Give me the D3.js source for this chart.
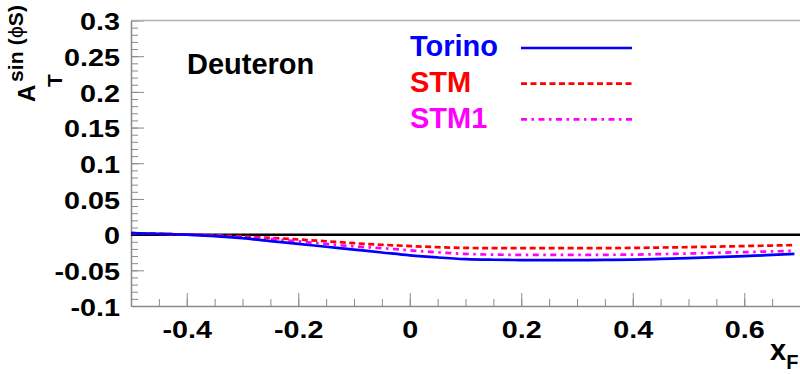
<!DOCTYPE html>
<html>
<head>
<meta charset="utf-8">
<script src="https://cdn.jsdelivr.net/npm/d3@7"></script>
<style>
  body { margin: 0; background: #fff; }
  text { font-family: "Liberation Sans", Arial, sans-serif; font-weight: bold; }
</style>
</head>
<body>
<div id="chart"></div>
<script>
// Transverse single-spin asymmetry vs x_F, deuteron target

// Data
let xF = [-0.5, -0.45, -0.4, -0.35, -0.3, -0.25, -0.2, -0.15, -0.1, -0.05, 0,
          0.05, 0.1, 0.15, 0.2, 0.25, 0.3, 0.35, 0.4, 0.45, 0.5, 0.55, 0.6, 0.65, 0.69];
let torino = [0.002, 0.0012, 0, -0.002, -0.005, -0.009, -0.013, -0.017, -0.021, -0.025, -0.029,
              -0.032, -0.0343, -0.0352, -0.0356, -0.0357, -0.0357, -0.0355, -0.035, -0.034, -0.033,
              -0.0315, -0.030, -0.0285, -0.027];
let stm = [0.002, 0.0012, 0, -0.001, -0.0025, -0.0045, -0.0068, -0.0093, -0.012, -0.0142, -0.016,
           -0.0176, -0.0186, -0.019, -0.019, -0.019, -0.019, -0.0189, -0.0186, -0.0181, -0.0175,
           -0.0168, -0.016, -0.0153, -0.0146];
let stm1 = [0.002, 0.0012, 0, -0.0015, -0.0035, -0.006, -0.0095, -0.013, -0.0165, -0.019, -0.022,
            -0.0248, -0.027, -0.028, -0.0284, -0.0285, -0.0285, -0.0283, -0.028, -0.0273, -0.0265,
            -0.0255, -0.0245, -0.0235, -0.0226];

let seriesNames = ["Torino", "STM", "STM1"];
let xTicks = [-0.4, -0.2, 0, 0.2, 0.4, 0.6];
let yTicks = [-0.1, -0.05, 0, 0.05, 0.1, 0.15, 0.2, 0.25, 0.3];

// Chart setup
let svgWidth = 800;
let svgHeight = 374;
let margin = { top: 20.5, right: 0, bottom: 68, left: 131 };
let width = svgWidth - margin.left - margin.right;
let height = svgHeight - margin.top - margin.bottom;

let svg = d3.select("#chart")
    .append("svg")
    .attr("width", svgWidth)
    .attr("height", svgHeight);

let chartGroup = svg.append("g")
    .attr("transform", `translate(${margin.left}, ${margin.top})`);

// Scales
let xScale = d3.scaleLinear().domain([-0.5, 0.7]).range([0, width]);
let yScale = d3.scaleLinear().domain([-0.1, 0.3]).range([height, 0]);

let axisColor = "#8a8a8a";
let labelScale = 1.25;

// Minor ticks
chartGroup.append("g")
    .attr("transform", `translate(0, ${height})`)
    .call(d3.axisBottom(xScale).ticks(24).tickSize(-7).tickSizeOuter(0).tickFormat(""))
    .call(g => g.selectAll("line").attr("stroke", axisColor))
    .call(g => g.select(".domain").remove());
chartGroup.append("g")
    .call(d3.axisLeft(yScale).ticks(40).tickSize(-7).tickSizeOuter(0).tickFormat(""))
    .call(g => g.selectAll("line").attr("stroke", axisColor))
    .call(g => g.select(".domain").remove());

// Major ticks and labels
let fmt = d => String(+d.toFixed(2));
let bottomAxis = d3.axisBottom(xScale).tickValues(xTicks).tickSize(-13).tickSizeOuter(0).tickFormat(fmt);
let leftAxis = d3.axisLeft(yScale).tickValues(yTicks).tickSize(-13).tickSizeOuter(0).tickFormat(fmt);

chartGroup.append("g")
    .attr("transform", `translate(0, ${height})`)
    .call(bottomAxis)
    .call(g => g.selectAll("line").attr("stroke", axisColor))
    .call(g => g.select(".domain").attr("stroke", axisColor).attr("stroke-width", 1.5))
    .call(g => g.selectAll("text")
        .attr("y", 32).attr("dy", null)
        .attr("transform", `scale(${labelScale},1)`)
        .attr("fill", "#000")
        .style("font-size", "23px"));

chartGroup.append("g")
    .call(leftAxis)
    .call(g => g.selectAll("line").attr("stroke", axisColor))
    .call(g => g.select(".domain").attr("stroke", axisColor).attr("stroke-width", 1.5))
    .call(g => g.selectAll("text")
        .attr("x", -11 / labelScale).attr("dy", "0.4em")
        .attr("transform", `scale(${labelScale},1)`)
        .attr("fill", "#000")
        .style("font-size", "23px"));

// Top frame line
chartGroup.append("line")
    .attr("x1", 0).attr("x2", width)
    .attr("y1", 0).attr("y2", 0)
    .attr("stroke", "#b0b0b0")
    .attr("stroke-width", 1.5);

// Zero line
chartGroup.append("line")
    .attr("x1", xScale(-0.5)).attr("x2", xScale(0.7))
    .attr("y1", yScale(0)).attr("y2", yScale(0))
    .attr("stroke", "#000")
    .attr("stroke-width", 2.5);

// Curves
let curves = [
    { name: seriesNames[0], values: torino, color: "#0000ff", dash: null },
    { name: seriesNames[1], values: stm, color: "#ff0000", dash: "6,3.5" },
    { name: seriesNames[2], values: stm1, color: "#ff00ff", dash: "6,4.5,2.5,4.5" }
];

let line = d3.line()
    .x((d, i) => xScale(xF[i]))
    .y(d => yScale(d))
    .curve(d3.curveMonotoneX);

// draw red and magenta first, blue on top
[curves[1], curves[2], curves[0]].forEach(c => {
    chartGroup.append("path")
        .datum(c.values)
        .attr("fill", "none")
        .attr("stroke", c.color)
        .attr("stroke-width", 2.7)
        .attr("stroke-dasharray", c.dash)
        .attr("d", line);
});

// Legend
let legend = svg.append("g");
curves.forEach((c, i) => {
    legend.append("text")
        .attr("x", 410)
        .attr("y", 56 + i * 36)
        .attr("fill", c.color)
        .style("font-size", "29px")
        .text(c.name);
    legend.append("line")
        .attr("x1", 521).attr("x2", 632)
        .attr("y1", 48 + i * 35.7).attr("y2", 48 + i * 35.7)
        .attr("stroke", c.color)
        .attr("stroke-width", 2.7)
        .attr("stroke-dasharray", c.dash);
});

// Target label
svg.append("text")
    .attr("x", 187)
    .attr("y", 74)
    .attr("fill", "#000")
    .style("font-size", "29px")
    .text("Deuteron");

// Y axis title: A_T^{sin(phi_S)}
let yTitle = svg.append("g")
    .attr("transform", "translate(35, 102) rotate(-90)");
yTitle.append("text").attr("x", 0).attr("y", 0)
    .style("font-size", "24px").text("A");
yTitle.append("text").attr("x", 15).attr("y", 27)
    .style("font-size", "21px").text("T");
let sup = yTitle.append("text").attr("x", 20).attr("y", -12)
    .style("font-size", "21px")
    .attr("textLength", 77)
    .attr("lengthAdjust", "spacing");
sup.append("tspan").text("sin (");
sup.append("tspan").style("font-weight", "normal").text("\u03d5");
sup.append("tspan").text("S)");

// X axis title: x_F
let xTitle = svg.append("text")
    .attr("x", 770)
    .attr("y", 360)
    .attr("fill", "#000");
xTitle.append("tspan").style("font-size", "29px").text("x");
xTitle.append("tspan").attr("dy", 9).style("font-size", "20px").text("F");
</script>
</body>
</html>
